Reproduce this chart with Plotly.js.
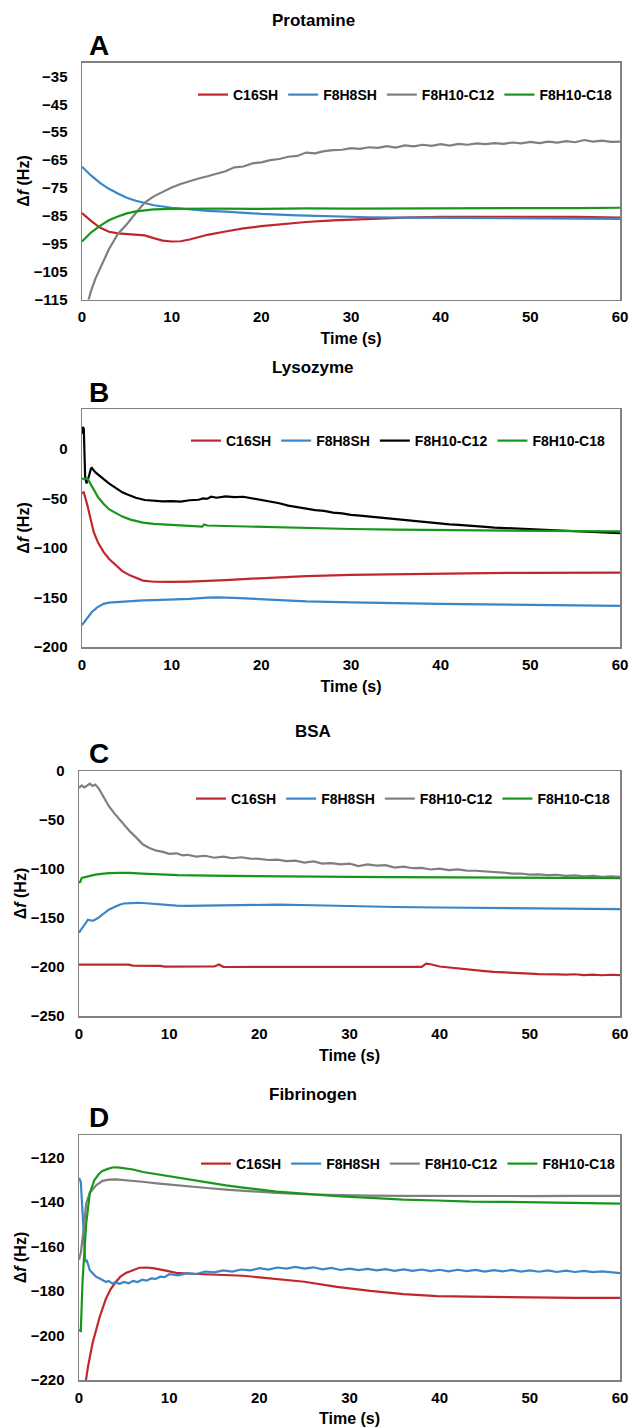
<!DOCTYPE html>
<html>
<head>
<meta charset="utf-8">
<script src="https://cdn.plot.ly/plotly-3.0.1.min.js"></script>
<style>
  html, body { margin: 0; padding: 0; background: #fff; }
  #chart { width: 629px; height: 1427px; }
</style>
</head>
<body>
<div id="chart"></div>
<script>
// ---------------- DATA ----------------
const seriesNames = ["C16SH", "F8H8SH", "F8H10-C12", "F8H10-C18"];
const panelTitles = ["Protamine", "Lysozyme", "BSA", "Fibrinogen"];
const panelLetters = ["A", "B", "C", "D"];
const xTitle = "Time (s)";
const yTitle = "Δ<i>f</i> (Hz)";

// Panel A – Protamine
const tA_C16SH = [0,1,2,3,4,5,6,7,8,9,10,11,12,14,16,18,20,22,25,28,32,36,40,45,50,55,60];
const A_C16SH  = [-84,-86.8,-89.2,-90.7,-91.3,-91.5,-91.6,-92,-93,-93.9,-94.2,-94.1,-93.5,-91.8,-90.6,-89.5,-88.7,-88,-87.2,-86.6,-86,-85.6,-85.4,-85.3,-85.4,-85.4,-85.6];
const tA_F8H8SH = [0,1,2,3,4,5,6,7,8,10,12,14,16,18,20,24,28,32,36,40,45,50,55,60];
const A_F8H8SH  = [-67.4,-70.5,-73.2,-75.3,-77,-78.5,-79.6,-80.5,-81.2,-82.1,-82.7,-83.2,-83.5,-84,-84.3,-84.8,-85.2,-85.5,-85.6,-85.7,-85.8,-85.9,-86,-86.1];
const tA_C12 = [0.3,1,1.5,2,3,4,5,6,7,8,9,10,11,12,13,14,15,16,17,18,19,20,21,22,23,24,25,26,27,28,29,30,31,32,33,34,35,36,37,38,39,40,41,42,43,44,45,46,47,48,49,50,51,52,53,54,55,56,57,58,59,60];
const A_C12  = [-120,-112,-107.5,-104,-97,-91.5,-88,-84,-80.2,-78,-76.5,-74.8,-73.6,-72.5,-71.6,-70.8,-69.9,-69,-67.6,-67.3,-66.2,-65.8,-65,-64.6,-63.8,-63.5,-62.3,-62.6,-61.8,-61.4,-61.3,-60.7,-61,-60.4,-60.6,-60,-60.5,-59.7,-60.1,-59.5,-59.9,-59.3,-59.8,-59.2,-59.5,-59,-59.3,-58.9,-59.2,-58.7,-59,-58.5,-58.9,-58.4,-58.7,-58.2,-58.6,-57.8,-58.4,-58,-58.5,-58.4];
const tA_C18 = [0,1,2,3,4,5,6,7,8,10,12,15,20,25,30,35,40,45,50,55,60];
const A_C18  = [-94.2,-91,-88.6,-86.6,-85.2,-84.1,-83.4,-83,-82.7,-82.5,-82.4,-82.4,-82.5,-82.3,-82.4,-82.3,-82.4,-82.3,-82.2,-82.2,-82.1];

// Panel B – Lysozyme
const tB_C16SH = [0,0.2,0.6,1,1.3,1.8,2.4,3,3.9,4.5,5.4,6,6.8,8,9,10,12,14,16,18,20,22,25,30,35,40,45,50,55,60];
const B_C16SH  = [-45,-44,-57,-74,-84,-95,-104,-111,-119,-123.5,-128,-130.5,-133,-134.2,-134.5,-134.4,-134,-133.5,-132.6,-131.5,-130.5,-129.5,-128.5,-127.2,-126.5,-126,-125.5,-125.2,-125,-125];
const tB_F8H8SH = [0,0.5,1.1,1.7,2.4,3,3.9,5,6.8,8,10,12,14,15,17,20,22,25,30,35,40,45,50,55,60];
const B_F8H8SH  = [-178,-172,-164.7,-160,-156.5,-155.2,-154.6,-153.8,-153,-152.8,-152.5,-151.5,-150.3,-150,-150.5,-152,-153,-154,-155,-156,-156.5,-157,-157.5,-158,-158.5];
const tB_C12 = [0,0.1,0.2,0.35,0.5,0.7,1,1.1,1.5,2,2.4,3,3.5,4,4.5,5,5.5,6,7,8,9,10,11,12,13,13.5,14,14.4,15,16,17,18,19,20,21,22,23,24,25,26,27,28,29,30,31,32,33,34,35,36,37,38,39,40,41,42,43,44,45,46,47,48,49,50,51,52,53,54,55,56,57,58,59,60];
const B_C12  = [15,22,20,-28,-35,-30,-20,-19.5,-24,-28,-31,-35,-38,-41,-44,-46,-48,-49.5,-51.8,-52.5,-53.2,-53,-53.4,-52,-51.5,-50.2,-50.5,-48.5,-49.5,-48.2,-48.8,-48.5,-50.2,-51.5,-53.5,-55,-57.4,-59,-60.5,-62,-62.8,-64.5,-65.3,-66.8,-67.5,-68.4,-69.6,-70.5,-71.2,-72.4,-73,-74.2,-74.6,-75.6,-76.3,-76.9,-77.8,-78,-78.9,-79.6,-80,-80.8,-81,-81.8,-82.2,-82.5,-83.1,-83.3,-83.8,-84,-84.4,-84.6,-85.2,-85.3];
const tB_C18 = [0,0.3,0.6,0.9,1.3,1.8,2.4,3,3.9,4.5,5.4,6,6.8,8,9.1,10,11,12,13,13.4,13.6,14,16,18,20,22,25,30,35,40,45,50,55,60];
const B_C18  = [-30,-31,-30,-35,-42,-49,-55.5,-61,-65.5,-68.5,-71.5,-73,-74.5,-75.8,-76.5,-77,-77.5,-78,-78.5,-78.6,-76.5,-77.5,-78,-78.5,-79,-79.5,-80.3,-81,-81.7,-82.2,-82.6,-83,-83.3,-83.5];

// Panel C – BSA
const tC_C16SH = [0,5.5,6,6.5,9,9.5,15,15.5,16,16.5,20,25,30,35,38,38.5,39,40,41,42,43,44,45,46,47,48,49,50,51,52,53,54,55,56,57,58,59,60];
const C_C16SH  = [-197.6,-197.6,-198.6,-198.6,-198.8,-199.6,-199.5,-197.5,-199.8,-200,-200,-200,-200,-200,-199.8,-196.5,-197.2,-199.5,-200.5,-201.8,-202.8,-203.5,-204.2,-205,-205.6,-206,-206.5,-206.8,-207.2,-207,-207.5,-207.8,-207.4,-208.2,-207.8,-208.4,-207.9,-208.3];
const tC_F8H8SH = [0,0.4,0.7,1,1.3,1.6,2.1,2.7,3.3,4,4.5,5,5.6,6.5,7.1,8,8.9,10,10.8,12,14.5,18,22,26,31,35,40,45,50,55,60];
const C_F8H8SH  = [-165,-160,-155,-151.7,-152.5,-152.8,-150,-145.5,-141.5,-138.5,-136.4,-135.2,-134.7,-134.5,-134.7,-135.5,-136.4,-137,-137.4,-137.6,-137.4,-136.9,-136.4,-137,-138.2,-138.8,-139.3,-139.6,-140.2,-140.5,-141];
const tC_C12 = [0,0.3,0.6,0.9,1.2,1.5,1.8,2.2,2.6,3,3.3,3.9,4.5,5,5.6,6.3,7.1,7.8,8.6,9.3,10,10.8,11.5,12,13,14,15,16,17,18,19,20,21,22,23,24,25,26,27,28,29,30,31,32,33,34,35,36,37,38,39,40,41,42,43,44,45,46,47,48,49,50,51,52,53,54,55,56,57,58,59,60];
const C_C12  = [-17.3,-14.8,-16.8,-14.5,-13,-15.2,-13.8,-18,-24,-30,-35.7,-43,-49.6,-55,-61.2,-67.5,-75,-78.5,-81.3,-82.5,-84.5,-84,-86,-85.5,-87.3,-86.5,-88.5,-87.4,-89,-88,-89.4,-89.6,-90.8,-90.4,-92,-91.5,-93.5,-92.3,-94.5,-94,-95.2,-94.5,-97,-95.3,-96.5,-96,-98.5,-97.5,-99.2,-98.8,-100.5,-99.6,-101.2,-100.4,-101.6,-101.8,-102.3,-103.4,-103.6,-104.7,-104.6,-105.8,-105.4,-106.3,-105.9,-107,-106.6,-107.6,-107,-108.1,-107.4,-108];
const tC_C18 = [0,0.15,0.3,0.8,1.2,1.8,2.5,3.3,4.5,5.6,7,8.9,11,14.5,18,22,26,30,35,40,45,50,55,60];
const C_C18  = [-114,-113,-109,-107.8,-106.8,-105.8,-105,-104.2,-104,-104,-104.8,-105.8,-106.3,-106.8,-107.2,-107.5,-107.8,-108,-108.2,-108.3,-108.5,-108.7,-109,-109.3];

// Panel D – Fibrinogen
const tD_C16SH = [0.7,1,1.5,2,2.3,3,3.5,4.1,4.6,5.2,6,6.7,7.5,8.2,9.5,10.8,12.5,14.5,16,18.2,20,22,25,28.6,32.3,36,39.7,43.4,47,50.7,55,60];
const D_C16SH  = [-222,-214,-203.5,-196,-191.6,-183.4,-179.3,-175.9,-173.6,-171.9,-170.5,-169.6,-169.5,-169.8,-170.8,-171.9,-172.3,-172.6,-172.8,-173.2,-173.9,-174.7,-175.9,-178.2,-180,-181.4,-182.3,-182.6,-182.8,-182.9,-183.1,-183.1];
const tD_F8H8SH = [0,0.2,0.4,0.55,0.7,0.85,1,1.2,1.5,1.9,2.3,2.6,3,3.3,3.7,4,4.5,5,5.5,6,6.5,7,7.5,8,8.5,9,9.5,10,11,12,13,14,15,16,17,18,19,20,21,22,23,24,25,26,27,28,29,30,31,32,33,34,35,36,37,38,39,40,41,42,43,44,45,46,47,48,49,50,51,52,53,54,55,56,57,58,59,60];
const D_F8H8SH  = [-129.3,-131,-145,-160,-167,-166,-168.5,-170.7,-172,-173.7,-174.4,-175.2,-176,-175.5,-176.7,-176.2,-176.8,-176,-176.6,-175.5,-176,-175,-175.4,-174.4,-174.6,-173.6,-173.8,-172.5,-173,-172,-172.4,-171.3,-171.7,-170.8,-171.3,-170.4,-170.8,-169.8,-170.4,-169.5,-170,-169.2,-170,-169.4,-170.3,-169.7,-170.6,-170,-170.7,-170.1,-170.8,-170.2,-171,-170.3,-171,-170.4,-171.1,-170.5,-171.2,-170.5,-171.1,-170.6,-171.3,-170.7,-171.2,-170.6,-171.3,-170.8,-171.4,-170.8,-171.5,-170.9,-171.5,-171,-171.6,-171.2,-171.6,-172];
const tD_C12 = [0,0.2,0.5,0.8,1.2,1.9,2.6,3.3,4.1,5.6,7,8.9,10.8,12.6,14.5,16.3,18,20,21.9,25,28.6,32,36,40,45,50,55,60];
const D_C12  = [-166,-163,-152.7,-140.6,-136,-132.6,-130.6,-130,-129.9,-130.3,-131,-131.8,-132.6,-133.3,-133.9,-134.5,-135,-135.5,-136,-136.6,-137,-137.2,-137.3,-137.4,-137.3,-137.4,-137.3,-137.3];
const tD_C18 = [0,0.2,0.4,0.8,1.2,1.7,2.2,2.6,3.2,3.7,4.3,4.8,6,7.1,9,10.8,12.6,14.5,16.3,18.2,20,21.9,24.9,28.6,32.3,36,39.7,43.4,47,50.7,54.4,60];
const D_C18  = [-197.6,-198,-175,-149.7,-136,-130.3,-127.5,-126.1,-125.2,-124.6,-124.5,-124.7,-125.5,-126.6,-127.9,-129.1,-130.3,-131.5,-132.6,-133.6,-134.6,-135.4,-136.3,-137.5,-138.2,-139,-139.4,-139.9,-140,-140.2,-140.5,-140.8];

const yRanges = [[-115, -30], [-200, 40], [-250, 0], [-220, -110]];
const yTick0  = [-115, -200, -250, -220];
const yDtick  = [10, 50, 50, 20];

// ---------------- STYLE / LAYOUT ----------------
const W = 629, H = 1427;
const FONT = '"Liberation Sans", Arial, sans-serif';
const colorsA = ['#c0272d', '#3a86c8', '#7f7f7f', '#17971a'];
const colorsB = ['#c0272d', '#3a86c8', '#000000', '#17971a'];

// pixel boxes of the four plot areas [left, right, top, bottom]
const boxes = [[82, 620, 62.5, 299.5], [82, 620, 409, 647], [79, 620, 771, 1016], [79, 620, 1135, 1380]];
const titlePos = [21, 367, 731, 1094];
const letterPos = [45, 392, 753, 1117];
const legendPos = [[617, 95], [610, 441], [615, 799], [620, 1164]];

const panelData = [
  [[tA_C16SH, A_C16SH], [tA_F8H8SH, A_F8H8SH], [tA_C12, A_C12], [tA_C18, A_C18]],
  [[tB_C16SH, B_C16SH], [tB_F8H8SH, B_F8H8SH], [tB_C12, B_C12], [tB_C18, B_C18]],
  [[tC_C16SH, C_C16SH], [tC_F8H8SH, C_F8H8SH], [tC_C12, C_C12], [tC_C18, C_C18]],
  [[tD_C16SH, D_C16SH], [tD_F8H8SH, D_F8H8SH], [tD_C12, D_C12], [tD_C18, D_C18]]
];

const px = x => x / W;
const py = y => 1 - y / H;

const traces = [];
const layout = {
  width: W, height: H,
  margin: {l: 0, r: 0, t: 0, b: 0},
  paper_bgcolor: '#fff', plot_bgcolor: '#fff',
  font: {family: FONT, color: '#000', size: 14, weight: 700},
  showlegend: true,
  annotations: []
};

for (let p = 0; p < 4; p++) {
  const sfx = p === 0 ? '' : String(p + 1);
  const cols = p === 1 ? colorsB : colorsA;
  const legName = 'legend' + sfx;
  panelData[p].forEach((s, i) => {
    traces.push({
      type: 'scatter', mode: 'lines',
      x: s[0], y: s[1], name: seriesNames[i],
      xaxis: 'x' + sfx, yaxis: 'y' + sfx,
      legend: legName,
      line: {color: cols[i], width: 2.2},
      hoverinfo: 'skip'
    });
  });
  const b = boxes[p];
  const axCommon = {
    showgrid: false, zeroline: false,
    showline: true, mirror: true, linecolor: '#808080', linewidth: 1.5,
    ticks: '', tickfont: {family: FONT, size: 15, color: '#000', weight: 700},
    automargin: false, fixedrange: true
  };
  layout['xaxis' + sfx] = Object.assign({}, axCommon, {
    domain: [px(b[0]), px(b[1])],
    anchor: 'y' + sfx,
    range: [0, 60], tick0: 0, dtick: 10,
    ticklabelstandoff: 3,
    title: {text: xTitle, font: {family: FONT, size: 16, color: '#000', weight: 700}, standoff: 9}
  });
  layout['yaxis' + sfx] = Object.assign({}, axCommon, {
    domain: [py(b[3]), py(b[2])],
    anchor: 'x' + sfx,
    range: yRanges[p], tick0: yTick0[p], dtick: yDtick[p],
    ticklabelstandoff: 10,
    title: {text: yTitle, font: {family: FONT, size: 16, color: '#000', weight: 700}, standoff: 0}
  });
  layout[legName] = {
    orientation: 'h', xref: 'paper', yref: 'paper',
    x: px(legendPos[p][0]), xanchor: 'right',
    y: py(legendPos[p][1]), yanchor: 'middle',
    bgcolor: 'rgba(0,0,0,0)', borderwidth: 0,
    font: {family: FONT, size: 14, color: '#000', weight: 700},
    itemwidth: 30, tracegroupgap: 0
  };
  layout.annotations.push({
    text: panelTitles[p], xref: 'paper', yref: 'paper',
    x: px(313), y: py(titlePos[p]), xanchor: 'center', yanchor: 'middle',
    showarrow: false, font: {family: FONT, size: 17, color: '#000', weight: 700}
  });
  layout.annotations.push({
    text: panelLetters[p], xref: 'paper', yref: 'paper',
    x: px(99), y: py(letterPos[p]), xanchor: 'center', yanchor: 'middle',
    showarrow: false, font: {family: FONT, size: 28, color: '#000', weight: 700}
  });
}

Plotly.newPlot('chart', traces, layout, {staticPlot: true, displayModeBar: false});
</script>
</body>
</html>
